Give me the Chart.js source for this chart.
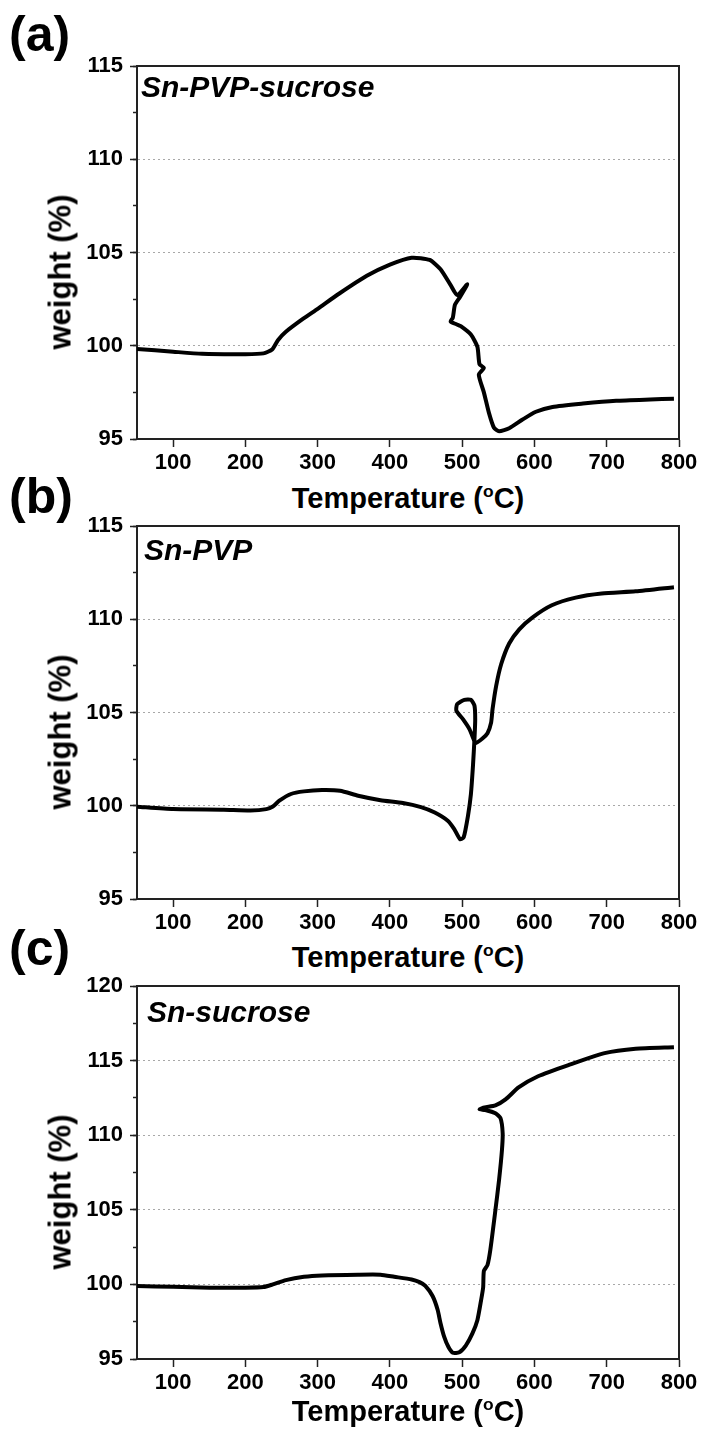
<!DOCTYPE html>
<html lang="en">
<head>
<meta charset="UTF-8" />
<title>TGA curves</title>
<style>
  body {
    margin: 0;
    background: #fff;
    width: 704px;
    height: 1437px;
    position: relative;
    overflow: hidden;
    font-family: 'Liberation Sans', Arial, sans-serif;
    color: #000;
  }
  .panel { position: absolute; left: 0; width: 704px; height: 480px; }
  .panel canvas { position: absolute; left: 0; top: 0; }
  .tag { position: absolute; left: 9px; font-weight: bold; font-size: 50px; line-height: 1; }
  .ytitle {
    position: absolute; left: 60px; top: 272px;
    font-weight: bold; font-size: 31px; line-height: 1; white-space: nowrap;
    transform: translate(-50%, -50%) rotate(-90deg);
  }
  .xtitle {
    position: absolute; left: 408px;
    font-weight: bold; font-size: 29px; line-height: 1; white-space: nowrap;
    transform: translateX(-50%);
  }
  .xtitle sup { font-size: 0.6em; line-height: 0; vertical-align: 11px; }
  .sample { position: absolute; font-weight: bold; font-style: italic; font-size: 30px; line-height: 1; }
</style>
</head>
<body>
  <div class="panel" style="top:0">
    <canvas id="chartA" width="704" height="480"></canvas>
    <div class="tag" style="top:9px">(a)</div>
    <div class="sample" style="left:141px; top:72px">Sn-PVP-sucrose</div>
    <div class="ytitle">weight (%)</div>
    <div class="xtitle" style="top:484px">Temperature (<sup>o</sup>C)</div>
  </div>
  <div class="panel" style="top:460px">
    <canvas id="chartB" width="704" height="480"></canvas>
    <div class="tag" style="top:11px">(b)</div>
    <div class="sample" style="left:144px; top:75px">Sn-PVP</div>
    <div class="ytitle">weight (%)</div>
    <div class="xtitle" style="top:483px">Temperature (<sup>o</sup>C)</div>
  </div>
  <div class="panel" style="top:920px">
    <canvas id="chartC" width="704" height="480"></canvas>
    <div class="tag" style="top:3px">(c)</div>
    <div class="sample" style="left:147px; top:77px">Sn-sucrose</div>
    <div class="ytitle">weight (%)</div>
    <div class="xtitle" style="top:477px">Temperature (<sup>o</sup>C)</div>
  </div>

  <script src="https://cdn.jsdelivr.net/npm/chart.js"></script>
  <script>
    // temperature (°C) and weight (%), in trace order
    const tempA = [50, 100, 140, 200, 225, 237, 245, 256, 280, 300, 330, 368, 400, 430, 455, 470, 484, 493, 507, 497, 490, 487, 484, 492, 498, 512, 521, 524, 530, 523, 530, 537, 544, 551, 565, 583, 602, 625, 667, 713, 760, 793];
    const weightA = [99.83, 99.68, 99.57, 99.55, 99.59, 99.8, 100.3, 100.75, 101.45, 101.98, 102.8, 103.75, 104.35, 104.72, 104.6, 104.1, 103.25, 102.72, 103.3, 102.62, 102.2, 101.5, 101.3, 101.15, 101.05, 100.6, 99.95, 99.0, 98.82, 98.45, 97.5, 96.4, 95.6, 95.42, 95.58, 96.03, 96.46, 96.72, 96.9, 97.05, 97.12, 97.16];

    const tempB = [50, 100, 170, 207, 229, 238, 247, 263, 281, 306, 331, 356, 387, 418, 443, 462, 480, 489, 497, 502, 508, 512, 515, 517, 518, 517, 512, 503, 493, 492, 501, 510, 516, 518, 528, 535, 540, 542, 547, 554, 565, 579, 597, 624, 657, 693, 740, 793];
    const weightB = [99.95, 99.82, 99.79, 99.75, 99.82, 99.96, 100.27, 100.63, 100.77, 100.84, 100.8, 100.54, 100.3, 100.15, 99.93, 99.64, 99.2, 98.75, 98.21, 98.3, 99.46, 100.6, 102.2, 103.6, 104.64, 105.36, 105.68, 105.68, 105.45, 105.09, 104.64, 104.11, 103.55, 103.35, 103.61, 103.89, 104.46, 105.18, 106.43, 107.6, 108.7, 109.46, 110.09, 110.75, 111.16, 111.38, 111.5, 111.72];

    const tempC = [50, 100, 151, 200, 225, 238, 256, 281, 306, 356, 387, 406, 430, 441, 449, 459, 466, 470, 475, 481, 487, 496, 505, 514, 521, 526, 529, 530, 535, 539, 546, 551, 555, 556, 553, 546, 532, 524, 531, 546, 560, 578, 605, 647, 697, 740, 793];
    const weightC = [99.89, 99.84, 99.78, 99.78, 99.82, 100.0, 100.29, 100.51, 100.6, 100.65, 100.65, 100.51, 100.33, 100.15, 99.9, 99.22, 98.3, 97.4, 96.5, 95.8, 95.42, 95.45, 95.9, 96.7, 97.6, 98.9, 99.8, 100.9, 101.3, 102.34, 105.0, 107.0, 109.0, 110.13, 111.14, 111.47, 111.69, 111.74, 111.86, 112.0, 112.4, 113.2, 113.95, 114.7, 115.5, 115.8, 115.9];

    const xRange = [50, 800];
    const xTicks = [100, 200, 300, 400, 500, 600, 700, 800];
    const yRangeA = [95, 115];
    const yRangeB = [95, 115];
    const yRangeC = [95, 120];

    const tickFont = { family: "'Liberation Sans', Arial, sans-serif", size: 22, weight: 'bold' };
    const axisColor = '#222';

    function toPoints(t, w) {
      return t.map((x, i) => ({ x: x, y: w[i] }));
    }

    function drawPanel(id, temps, weights, yRange) {
      new Chart(document.getElementById(id), {
        type: 'scatter',
        data: {
          datasets: [{
            data: toPoints(temps, weights),
            xAxisID: 'x',
            yAxisID: 'y',
            showLine: true,
            borderColor: '#000',
            borderWidth: 4,
            pointRadius: 0,
            tension: 0.2,
            fill: false
          }]
        },
        options: {
          responsive: false,
          animation: false,
          events: [],
          layout: { padding: { top: 66, right: 25, left: 0, bottom: 0 } },
          plugins: { legend: { display: false }, tooltip: { enabled: false } },
          scales: {
            x: {
              type: 'linear', position: 'bottom', min: xRange[0], max: xRange[1],
              ticks: { color: '#000', font: tickFont, padding: 3, maxRotation: 0, autoSkip: false },
              // fixed tick list, no tick at the 50 edge
              afterBuildTicks: s => { s.ticks = xTicks.map(v => ({ value: v })); },
              afterFit: s => { s.height = 41; },
              grid: { drawOnChartArea: false, tickLength: 8, tickColor: axisColor, tickWidth: 1.5 },
              border: { color: axisColor, width: 2 }
            },
            xTop: {
              type: 'linear', position: 'top', min: xRange[0], max: xRange[1],
              ticks: { display: false }, grid: { display: false },
              afterFit: s => { s.height = 0; },
              border: { color: axisColor, width: 2 }
            },
            y: {
              type: 'linear', position: 'left', min: yRange[0], max: yRange[1], weight: 1,
              ticks: { stepSize: 5, color: '#000', font: tickFont, padding: 7 },
              afterFit: s => { s.width = 137; },
              grid: {
                color: c => (c.tick && (c.tick.value === yRange[0] || c.tick.value === yRange[1])) ? 'rgba(0,0,0,0)' : '#a8a8a8',
                lineWidth: 1, tickLength: 7, tickColor: axisColor, tickWidth: 1.5
              },
              border: { color: axisColor, width: 2, dash: [2, 3] }
            },
            yMinor: {
              type: 'linear', position: 'left', min: yRange[0], max: yRange[1], weight: 0,
              ticks: { stepSize: 2.5, display: false },
              afterFit: s => { s.width = 0; },
              grid: { drawOnChartArea: false, tickLength: 4, tickColor: axisColor, tickWidth: 1.5 },
              border: { display: false }
            },
            yRight: {
              type: 'linear', position: 'right', min: yRange[0], max: yRange[1],
              ticks: { display: false }, grid: { display: false },
              afterFit: s => { s.width = 0; },
              border: { color: axisColor, width: 2 }
            }
          }
        }
      });
    }

    drawPanel('chartA', tempA, weightA, yRangeA);
    drawPanel('chartB', tempB, weightB, yRangeB);
    drawPanel('chartC', tempC, weightC, yRangeC);
  </script>
</body>
</html>
